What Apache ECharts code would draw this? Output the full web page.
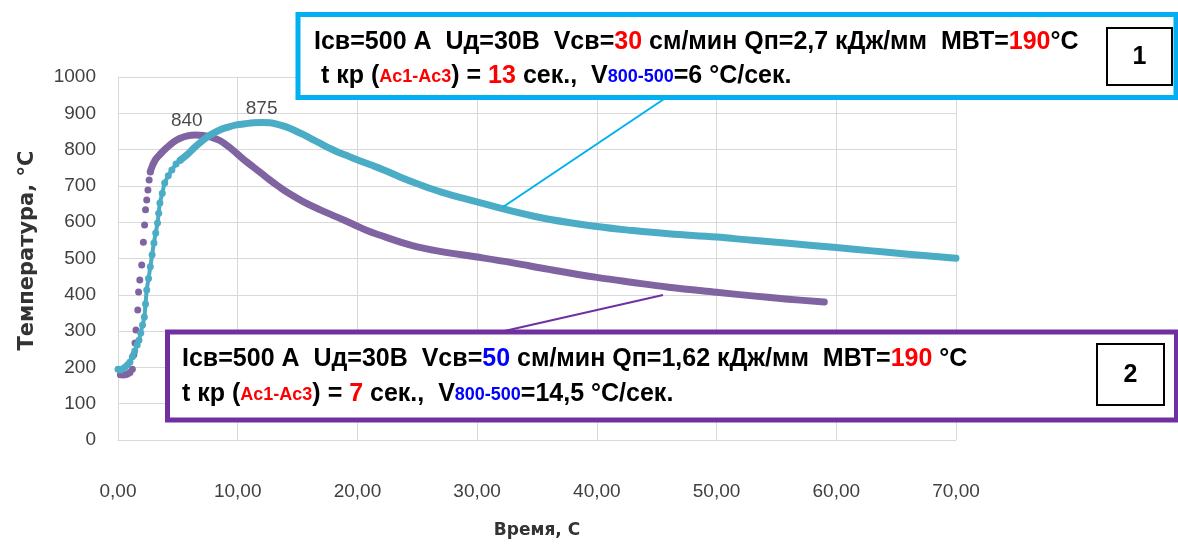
<!DOCTYPE html>
<html>
<head>
<meta charset="utf-8">
<script src="https://cdn.jsdelivr.net/npm/echarts/dist/echarts.min.js"></script>
<style>
html,body{margin:0;padding:0;background:#fff;}
#chart{width:1178px;height:546px;}
</style>
</head>
<body>
<div id="chart"></div>
<script>
// ---- data (time in s, temperature in °C) ----
const xTicks = [0, 10, 20, 30, 40, 50, 60, 70];
const yTicks = [0, 100, 200, 300, 400, 500, 600, 700, 800, 900, 1000];

// Series 1 (Vсв=30 см/мин) – cyan
const cyanRise = [[0.0,195],[0.2,193],[0.4,196],[0.6,201],[0.8,207],[1.0,215],[1.2,229],[1.4,245],[1.6,262],[1.75,275],[1.9,295],[2.05,317],[2.2,339],[2.3,375],[2.4,413],[2.55,445],[2.7,477],[2.85,510],[3.0,543],[3.15,570],[3.3,598],[3.4,625],[3.5,653],[3.7,680],[3.9,708],[4.2,728],[4.5,744],[4.85,760],[5.2,771]];
const cyanMain = [[5.2,771],[5.8,787],[6.4,806],[7.1,826],[7.8,842],[8.5,854],[9.2,862],[9.9,868],[10.6,871],[11.3,874],[12.0,875],[12.7,874],[13.4,869],[14.1,862],[14.8,852],[15.5,841],[16.2,829],[16.9,817],[17.6,805],[18.3,794],[19.0,785],[19.6,777],[21.1,758],[22.2,744],[23.6,724],[25,706],[27,683],[30,656],[33,630],[36,608],[40,588],[43,577],[46,568],[50,559],[53,550],[56,542],[60,530],[63,521],[66,512],[70,501]];
const cyanPeak = [[12.0,875]];

// Series 2 (Vсв=50 см/мин) – purple
const purpleRise = [[0.2,180],[0.4,179],[0.6,180],[0.8,182],[1.0,186],[1.2,195],[1.32,235],[1.42,267],[1.5,303],[1.65,358],[1.72,408],[1.82,441],[1.98,482],[2.12,545],[2.22,592],[2.3,634],[2.4,661],[2.5,689],[2.6,716],[2.7,738]];
const purpleMain = [[2.7,740],[3.1,771],[3.6,790],[4.1,806],[4.6,820],[5.1,830],[5.8,838],[6.5,840],[7.1,839],[7.8,834],[8.5,825],[9.2,809],[9.9,790],[10.6,770],[11.3,752],[12.0,734],[12.7,716],[13.4,699],[14.1,683],[15.5,656],[16.9,634],[18.3,614],[19.6,595],[20.8,577],[21.9,564],[23.6,545],[25,532],[27,519],[30,504],[33,488],[36,470],[40,448],[43,434],[46,421],[50,407],[53,397],[56,388],[59,380]];
const purplePeak = [[6.5,840]];

// annotation texts
const box1Line1 = '{b|Iсв=500 А  Uд=30В  Vсв=}{r|30}{b| см/мин Qп=2,7 кДж/мм  МВТ=}{r|190}{b|°С}';
const box1Line2 = '{b| t кр (}{rs|Ac1-Ac3}{b|) = }{r|13}{b| сек.,  V}{bs|800-500}{b|=6 °С/сек.}';
const box2Line1 = '{b|Iсв=500 А  Uд=30В  Vсв=}{bl|50}{b| см/мин Qп=1,62 кДж/мм  МВТ=}{r|190}{b| °С}';
const box2Line2 = '{b|t кр (}{rs|Ac1-Ac3}{b|) = }{r|7}{b| сек.,  V}{bs|800-500}{b|=14,5 °С/сек.}';

const CYAN = '#4bacc6', PURPLE = '#8064a2';
const FONT = "'Liberation Sans', Arial, sans-serif";
const FS = 25;
const rich = {
  b:  {fontFamily: FONT, fontWeight: 'bold', fontSize: FS, fill: '#000', lineHeight: 28, verticalAlign: 'bottom'},
  r:  {fontFamily: FONT, fontWeight: 'bold', fontSize: FS, fill: '#ff0000', lineHeight: 28, verticalAlign: 'bottom'},
  bl: {fontFamily: FONT, fontWeight: 'bold', fontSize: FS, fill: '#0000ff', lineHeight: 28, verticalAlign: 'bottom'},
  rs: {fontFamily: FONT, fontWeight: 'bold', fontSize: 18, fill: '#ff0000', lineHeight: 22, verticalAlign: 'bottom', padding: [0, 0, 3, 0]},
  bs: {fontFamily: FONT, fontWeight: 'bold', fontSize: 18, fill: '#0000ff', lineHeight: 22, verticalAlign: 'bottom', padding: [0, 0, 3, 0]}
};
function txt(x, y, s) {
  return {type: 'text', x: x, y: y, z: 102,
    style: {text: s, rich: rich, align: 'left', verticalAlign: 'middle', font: 'bold ' + FS + 'px ' + FONT, fill: '#000'}};
}

const chart = echarts.init(document.getElementById('chart'), null, {renderer: 'canvas'});
const tickFont = {fontFamily: FONT, fontSize: 19, color: '#404040'};
chart.setOption({
  animation: false,
  backgroundColor: '#fff',
  grid: {left: 118, right: 222, top: 77, bottom: 106},
  xAxis: {
    type: 'value', min: xTicks[0], max: xTicks[xTicks.length-1], interval: 10,
    name: 'Время, С', nameLocation: 'middle', nameGap: 82,
    nameTextStyle: {fontFamily: "'DejaVu Sans', sans-serif", fontWeight: 'bold', fontSize: 17, color: '#333'},
    axisLine: {show: true, lineStyle: {color: '#d9d9d9'}},
    axisTick: {show: false},
    axisLabel: Object.assign({margin: 42, formatter: v => v.toFixed(2).replace('.', ',')}, tickFont),
    splitLine: {show: true, lineStyle: {color: '#d9d9d9'}}
  },
  yAxis: {
    type: 'value', min: yTicks[0], max: yTicks[yTicks.length-1], interval: 100,
    name: 'Температура, °С', nameLocation: 'middle', nameGap: 80,
    nameTextStyle: {fontFamily: "'DejaVu Sans', sans-serif", fontWeight: 'bold', fontSize: 21, color: '#333', padding: [0, 0, 0, 16]},
    axisLine: {show: true, lineStyle: {color: '#d9d9d9'}},
    axisTick: {show: false},
    axisLabel: Object.assign({margin: 22, formatter: v => String(v)}, tickFont),
    splitLine: {show: true, lineStyle: {color: '#d9d9d9'}}
  },
  series: [
    {type: 'line', data: cyanMain, smooth: 0.4, symbol: 'none', z: 3,
     lineStyle: {color: CYAN, width: 7, cap: 'round', join: 'round'}},
    {type: 'line', data: cyanRise, smooth: 0.3, symbol: 'circle', symbolSize: 7, showSymbol: true, z: 3,
     itemStyle: {color: CYAN}, lineStyle: {color: CYAN, width: 4}},
    {type: 'line', data: purpleMain, smooth: 0.4, symbol: 'none', z: 2,
     lineStyle: {color: PURPLE, width: 7, cap: 'round', join: 'round'}},
    {type: 'scatter', data: purpleRise, symbolSize: 7, z: 2, itemStyle: {color: PURPLE, opacity: 1}},
    {type: 'scatter', data: purplePeak, symbolSize: 1, z: 5, itemStyle: {color: 'rgba(0,0,0,0)'},
     label: {show: true, position: 'top', distance: 4, offset: [-9, 0], formatter: p => String(p.value[1]),
             fontFamily: FONT, fontSize: 19, color: '#1a1a1a'}},
    {type: 'scatter', data: cyanPeak, symbolSize: 1, z: 5, itemStyle: {color: 'rgba(0,0,0,0)'},
     label: {show: true, position: 'top', distance: 4, formatter: p => String(p.value[1]),
             fontFamily: FONT, fontSize: 19, color: '#1a1a1a'}}
  ],
  graphic: [
    // leader lines
    {type: 'line', z: 99, shape: {x1: 503, y1: 207, x2: 667, y2: 97}, style: {stroke: '#00b0f0', lineWidth: 2}},
    {type: 'line', z: 99, shape: {x1: 500, y1: 332, x2: 663, y2: 295}, style: {stroke: '#7030a0', lineWidth: 2}},
    // box 1
    {type: 'rect', z: 100, shape: {x: 298, y: 14.5, width: 878, height: 83}, style: {fill: '#fff', stroke: '#00b0f0', lineWidth: 5}},
    {type: 'rect', z: 101, shape: {x: 1107, y: 28, width: 65, height: 57}, style: {fill: '#fff', stroke: '#000', lineWidth: 2}},
    {type: 'text', z: 102, x: 1139.5, y: 57, style: {text: '1', font: 'bold 25px ' + FONT, fill: '#000', align: 'center', verticalAlign: 'middle'}},
    txt(314, 41, box1Line1),
    txt(314, 75, box1Line2),
    // box 2
    {type: 'rect', z: 100, shape: {x: 167.5, y: 332, width: 1009, height: 88}, style: {fill: '#fff', stroke: '#7030a0', lineWidth: 5}},
    {type: 'rect', z: 101, shape: {x: 1097, y: 344, width: 67, height: 61}, style: {fill: '#fff', stroke: '#000', lineWidth: 2}},
    {type: 'text', z: 102, x: 1130.5, y: 375, style: {text: '2', font: 'bold 25px ' + FONT, fill: '#000', align: 'center', verticalAlign: 'middle'}},
    txt(182, 358, box2Line1),
    txt(182, 393, box2Line2)
  ]
});
</script>
</body>
</html>
